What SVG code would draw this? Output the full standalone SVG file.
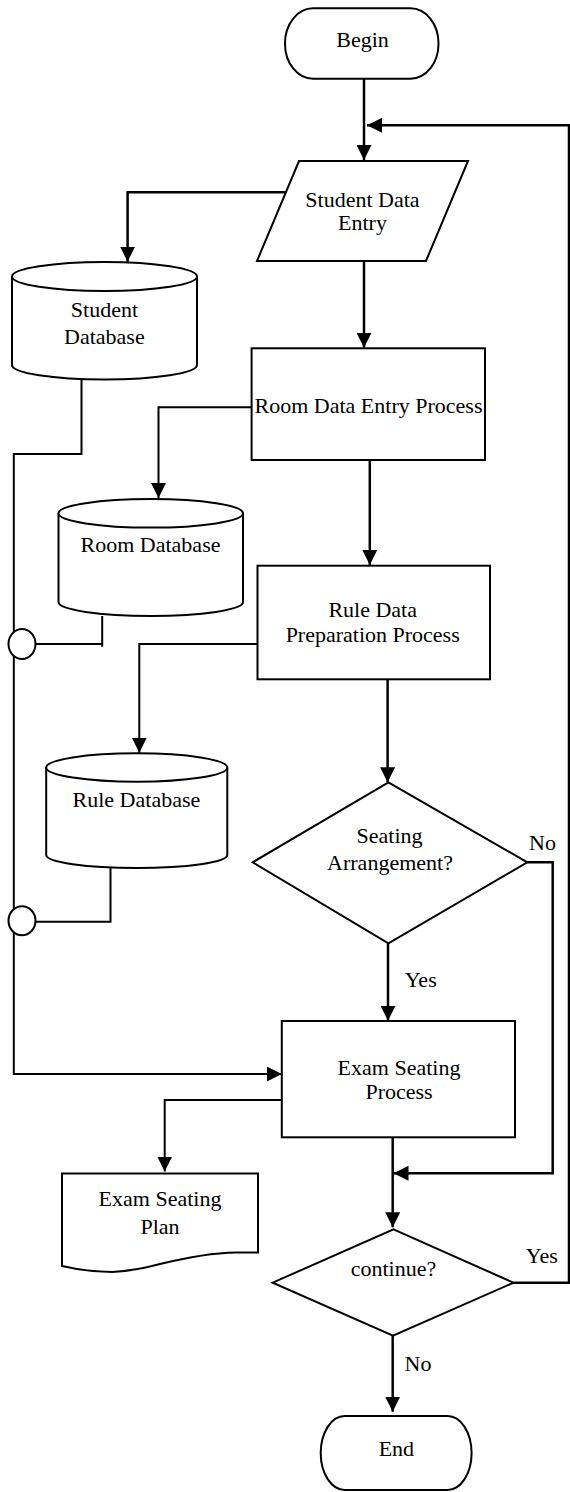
<svg xmlns="http://www.w3.org/2000/svg" width="570" height="1492" viewBox="0 0 570 1492" font-family="Liberation Serif, DejaVu Serif, serif">
  <style>
    .shape { fill: #ffffff; stroke: #000000; stroke-width: 2; }
    .flow { fill: none; stroke: #000000; stroke-width: 2.5; stroke-linejoin: miter; }
    .link { fill: none; stroke: #000000; stroke-width: 2; }
    .arrow { marker-end: url(#head); }
    .lbl { font-family: 'Liberation Serif', 'DejaVu Serif', serif; font-size: 22px; fill: #000000; text-anchor: middle; }
  </style>
  <defs>
    <marker id="head" viewBox="0 0 10 10" refX="10" refY="5" markerWidth="15" markerHeight="15" markerUnits="userSpaceOnUse" orient="auto">
      <path d="M0,0 L10,5 L0,10 Z" fill="#000000"/>
    </marker>
  </defs>

  <!-- connectors -->
  <g id="connectors">
    <path class="flow arrow" d="M364,78.7 V160"/>
    <path class="flow arrow" d="M513.5,1282.7 H569 V125.3 H367"/>
    <path class="flow arrow" d="M285.8,192.3 H127.6 V261.7"/>
    <path class="flow arrow" d="M364,261 V347.7"/>
    <path class="link arrow" d="M251.6,407.3 H158.5 V498"/>
    <path class="flow arrow" d="M369.8,460 V565"/>
    <path class="link arrow" d="M257.5,644 H139.3 V752.7"/>
    <path class="flow arrow" d="M387.6,679.3 V782.3"/>
    <path class="flow arrow" d="M388,943.3 V1020.7"/>
    <path class="flow arrow" d="M527.3,862.3 H552.7 V1173.3 H393.5"/>
    <path class="flow arrow" d="M392.7,1137.3 V1227.3"/>
    <path class="link arrow" d="M286,1100 H164.7 V1171.5"/>
    <path class="flow arrow" d="M392.7,1335.7 V1411.7"/>
    <path class="link arrow" d="M81.5,379.3 V454 H13.8 V1074 H281.8"/>
    <path class="link" d="M102.2,616 V646.7 M35.6,644 H102.2"/>
    <path class="link" d="M110.5,867.7 V921.7 H35.6"/>
    <ellipse class="shape" cx="22" cy="644" rx="13.5" ry="15"/>
    <ellipse class="shape" cx="22" cy="920.7" rx="13.5" ry="14.5"/>
    <text class="lbl" x="542.5" y="850">No</text>
    <text class="lbl" x="420.7" y="987.3">Yes</text>
    <text class="lbl" x="541.8" y="1263.3">Yes</text>
    <text class="lbl" x="418" y="1370.7">No</text>
  </g>

  <g id="begin">
    <rect class="shape" x="285" y="8.3" width="153.5" height="70.4" rx="28" ry="35"/>
    <text class="lbl" x="362.5" y="46.7">Begin</text>
  </g>

  <g id="student-data-entry">
    <polygon class="shape" points="299,161 468,161 426,261 257,261"/>
    <text class="lbl" x="362.5" y="206.7">Student Data</text>
    <text class="lbl" x="362.5" y="230">Entry</text>
  </g>

  <g id="student-database">
    <path class="shape" d="M12,276.5 V365 A92.5,14.5 0 0 0 197,365 V276.5"/>
    <ellipse class="shape" cx="104.5" cy="276.5" rx="92.5" ry="14.5"/>
    <text class="lbl" x="104.4" y="316.7">Student</text>
    <text class="lbl" x="104.4" y="344.3">Database</text>
  </g>

  <g id="room-data-entry">
    <rect class="shape" x="251.6" y="348.3" width="233.4" height="111.7"/>
    <text class="lbl" x="368.5" y="412.5">Room Data Entry Process</text>
  </g>

  <g id="room-database">
    <path class="shape" d="M58.5,513.3 V602 A92.25,14 0 0 0 243,602 V513.3"/>
    <ellipse class="shape" cx="150.75" cy="513.3" rx="92.25" ry="14.3"/>
    <text class="lbl" x="150.5" y="552.3">Room Database</text>
  </g>

  <g id="rule-data-preparation">
    <rect class="shape" x="257.5" y="565.7" width="232.5" height="113.6"/>
    <text class="lbl" x="372.7" y="616.7">Rule Data</text>
    <text class="lbl" x="372.7" y="641.7">Preparation Process</text>
  </g>

  <g id="rule-database">
    <path class="shape" d="M46.2,767.5 V855 A90.55,13 0 0 0 227.3,855 V767.5"/>
    <ellipse class="shape" cx="136.75" cy="767.5" rx="90.55" ry="14.2"/>
    <text class="lbl" x="136.4" y="807.3">Rule Database</text>
  </g>

  <g id="seating-decision">
    <polygon class="shape" points="388.4,782.3 527.3,862.3 388.4,943.3 252.7,862.3"/>
    <text class="lbl" x="389.5" y="842.7">Seating</text>
    <text class="lbl" x="390" y="870">Arrangement?</text>
  </g>

  <g id="exam-seating-process">
    <rect class="shape" x="281.8" y="1021" width="233.2" height="116.3"/>
    <text class="lbl" x="399" y="1075">Exam Seating</text>
    <text class="lbl" x="399" y="1099">Process</text>
  </g>

  <g id="exam-seating-plan">
    <path class="shape" d="M62,1173.5 H258 V1252.5 L236,1252.5 Q205,1253 160,1264 Q135,1271 112,1272 Q88,1272 62,1266 Z"/>
    <text class="lbl" x="160" y="1205.5">Exam Seating</text>
    <text class="lbl" x="160" y="1234">Plan</text>
  </g>

  <g id="continue-decision">
    <polygon class="shape" points="393.5,1229.3 513.5,1282.7 393,1335.7 272.7,1282.7"/>
    <text class="lbl" x="393.5" y="1276">continue?</text>
  </g>

  <g id="end">
    <rect class="shape" x="320.7" y="1416" width="150.9" height="74" rx="24" ry="37"/>
    <text class="lbl" x="396.4" y="1456">End</text>
  </g>
</svg>
